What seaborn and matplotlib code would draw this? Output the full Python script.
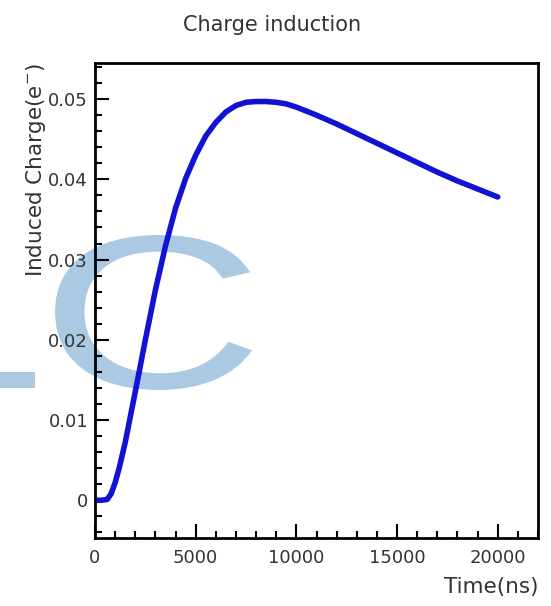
import matplotlib
matplotlib.use("Agg")
import matplotlib.pyplot as plt
import matplotlib.ticker as mticker
import matplotlib.transforms as mtransforms
from matplotlib.textpath import TextPath
from matplotlib.patches import PathPatch, Rectangle
from matplotlib.font_manager import FontProperties
import pandas as pd
import seaborn as sns

# induced charge vs time
time_ns = [0, 300, 600, 800, 1000, 1200, 1500, 1800, 2100, 2500, 3000, 3500,
           4000, 4500, 5000, 5500, 6000, 6500, 7000, 7500, 8000, 8500, 9000,
           9500, 10000, 11000, 12000, 13000, 14000, 15000, 16000, 17000,
           18000, 19000, 20000]
charge = [0, 0, 0.0001, 0.0008, 0.0022, 0.0040, 0.0072, 0.0110, 0.0148,
          0.0200, 0.0262, 0.0317, 0.0364, 0.0401, 0.0430, 0.0454, 0.0471,
          0.0484, 0.0492, 0.0496, 0.0497, 0.0497, 0.0496, 0.0494, 0.0490,
          0.0480, 0.0469, 0.0457, 0.0445, 0.0433, 0.0421, 0.0409, 0.0398,
          0.0388, 0.0378]

x_ticks = [0, 5000, 10000, 15000, 20000]
x_labels = ["0", "5000", "10000", "15000", "20000"]
y_ticks = [0, 0.01, 0.02, 0.03, 0.04, 0.05]
y_labels = ["0", "0.01", "0.02", "0.03", "0.04", "0.05"]

df = pd.DataFrame({"t": time_ns, "q": charge})

sns.set_style("ticks")
plt.rcParams["font.family"] = ["DejaVu Sans"]
plt.rcParams["mathtext.default"] = "regular"

fig = plt.figure(figsize=(5.51, 6.06), dpi=100, facecolor="white")
ax = fig.add_axes([95 / 551, 1 - 538 / 606, 443 / 551, 475 / 606])
ax.set_facecolor("none")

sns.lineplot(data=df, x="t", y="q", ax=ax, color="#1212d4", linewidth=4,
             sort=False, estimator=None, solid_capstyle="round")

ax.set_xlim(0, 22000)
ax.set_ylim(-0.0047, 0.0545)
ax.set_xticks(x_ticks)
ax.set_xticklabels(x_labels)
ax.set_yticks(y_ticks)
ax.set_yticklabels(y_labels)
ax.xaxis.set_minor_locator(mticker.MultipleLocator(1000))
ax.yaxis.set_minor_locator(mticker.MultipleLocator(0.002))
ax.tick_params(which="both", direction="in", top=False, right=False,
               width=1.5, color="black", labelsize=13, labelcolor="#333333")
ax.tick_params(which="major", length=10)
ax.tick_params(which="minor", length=5)
ax.tick_params(axis="x", pad=8)
ax.tick_params(axis="y", pad=5)
for s in ax.spines.values():
    s.set_linewidth(2)
    s.set_color("black")
    s.set_visible(True)

ax.set_xlabel("Time(ns)", fontsize=15.5, loc="right", color="#333333")
ax.xaxis.set_label_coords(1.0, -0.082)
ax.set_ylabel("Induced Charge(e$^{-}$)", fontsize=15.5, loc="top", color="#333333")
ax.yaxis.set_label_coords(-0.105, 1.0)

fig.text(0.494, 0.959, "Charge induction", ha="center", va="center",
         fontsize=15, color="#333333")

# light blue watermark behind the plot
wm = "#abc9e3"
tp = TextPath((0, 0), "C", size=100, prop=FontProperties(family="Liberation Sans"))
ext = tp.get_extents()
x0, x1, y0, y1 = 55, 252, 606 - 390, 606 - 235
tr = (mtransforms.Affine2D().translate(-ext.x0, -ext.y0)
      .scale((x1 - x0) / ext.width, (y1 - y0) / ext.height).translate(x0, y0))
fig.add_artist(PathPatch(tr.transform_path(tp), facecolor=wm, edgecolor="none",
                         transform=mtransforms.IdentityTransform(), zorder=-1))
fig.add_artist(Rectangle((0, 606 - 388), 35, 16, facecolor=wm, edgecolor="none",
                         transform=mtransforms.IdentityTransform(), zorder=-1))

fig.savefig("out.png", dpi=100, facecolor="white")
